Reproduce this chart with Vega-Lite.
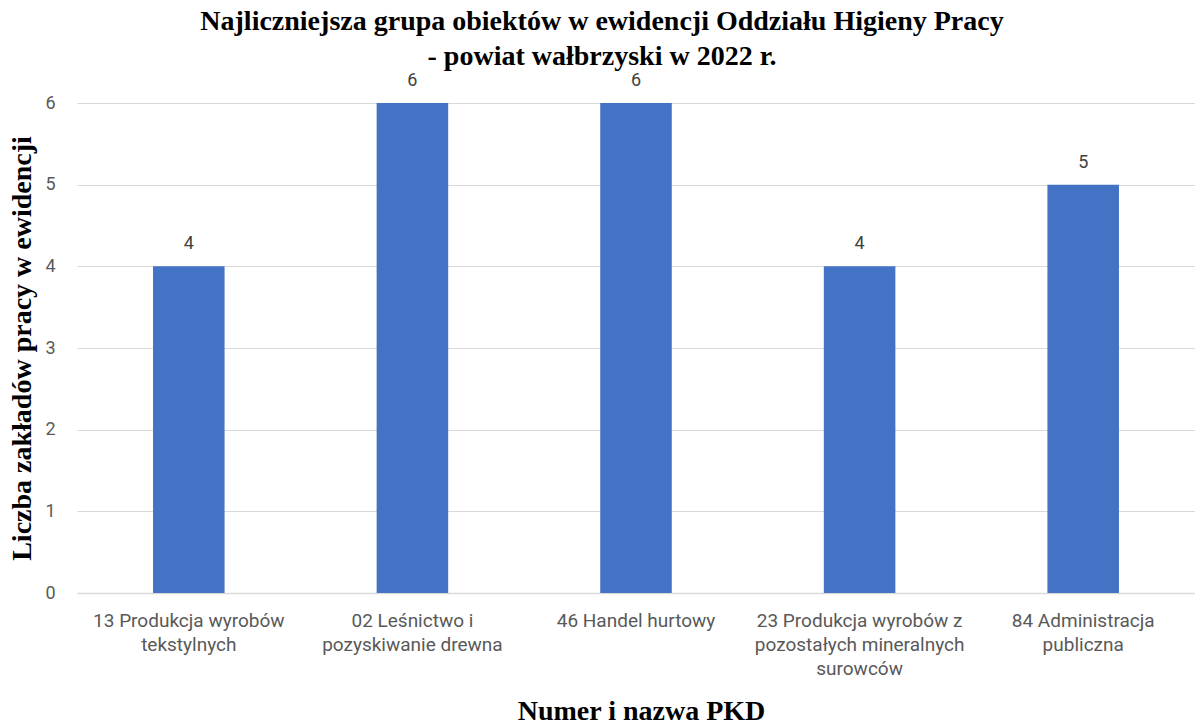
{
  "$schema": "https://vega.github.io/schema/vega-lite/v6.json",
  "autosize": {"type": "none"},
  "width": 1118,
  "height": 490,
  "padding": {"left": 77, "top": 103, "right": 0, "bottom": 131},
  "background": "white",
  "title": {
    "text": ["Najliczniejsza grupa obiektów w ewidencji Oddziału Higieny Pracy", "- powiat wałbrzyski w 2022 r."],
    "font": "Liberation Serif",
    "fontSize": 28,
    "fontWeight": "bold",
    "color": "#000000",
    "lineHeight": 35,
    "anchor": "middle",
    "dx": -34,
    "offset": 1
  },
  "data": {
    "values": [
      {"pkd": "13 Produkcja wyrobów|tekstylnych", "liczba": 4},
      {"pkd": "02 Leśnictwo i|pozyskiwanie drewna", "liczba": 6},
      {"pkd": "46 Handel hurtowy", "liczba": 6},
      {"pkd": "23 Produkcja wyrobów z|pozostałych mineralnych|surowców", "liczba": 4},
      {"pkd": "84 Administracja|publiczna", "liczba": 5}
    ]
  },
  "encoding": {
    "x": {
      "field": "pkd",
      "type": "nominal",
      "sort": null,
      "scale": {"paddingInner": 0.68, "paddingOuter": 0.34},
      "axis": {
        "title": "Numer i nazwa PKD",
        "titleFont": "Liberation Serif",
        "titleFontSize": 28,
        "titleFontWeight": "bold",
        "titleColor": "#000000",
        "titleX": 564,
        "titleY": 126,
        "titleBaseline": "alphabetic",
        "labelExpr": "split(datum.label, '|')",
        "labelAngle": 0,
        "labelFont": "Roboto",
        "labelFontSize": 19,
        "labelColor": "#595959",
        "labelLineHeight": 24,
        "labelPadding": 18,
        "labelLimit": 300,
        "ticks": false,
        "domain": true,
        "domainColor": "#d9d9d9",
        "domainWidth": 1.5
      }
    },
    "y": {
      "field": "liczba",
      "type": "quantitative",
      "scale": {"domain": [0, 6]},
      "axis": {
        "title": "Liczba zakładów pracy w ewidencji",
        "titleFont": "Liberation Serif",
        "titleFontSize": 28,
        "titleFontWeight": "bold",
        "titleColor": "#000000",
        "titlePadding": 8,
        "values": [0, 1, 2, 3, 4, 5, 6],
        "labelFont": "Roboto",
        "labelFontSize": 18,
        "labelColor": "#595959",
        "labelPadding": 22,
        "ticks": false,
        "domain": false,
        "gridColor": "#d9d9d9",
        "gridWidth": 1
      }
    }
  },
  "layer": [
    {"mark": {"type": "bar", "color": "#4472C4"}},
    {
      "mark": {"type": "text", "baseline": "bottom", "dy": -13, "font": "Roboto", "fontSize": 18, "color": "#404040"},
      "encoding": {"text": {"field": "liczba", "type": "quantitative"}}
    }
  ],
  "config": {"view": {"stroke": null}}
}
